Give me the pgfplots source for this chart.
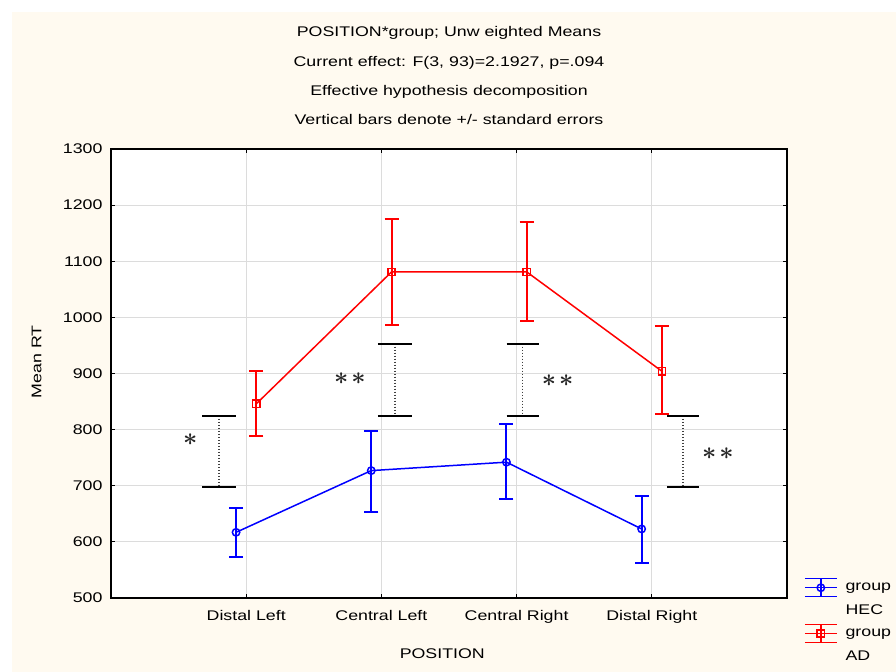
\documentclass[border=0pt]{standalone}
\usepackage{fontspec}
\setmainfont{Liberation Sans}[FakeStretch=1.27]
\usepackage{pgfplots}
\pgfplotsset{compat=1.18}
\definecolor{bgcream}{HTML}{FFFAF0}
\definecolor{gridgray}{HTML}{DCDCDC}
\definecolor{pblue}{RGB}{0,0,255}
\definecolor{pred}{RGB}{255,0,0}
\begin{document}
\begin{tikzpicture}[font=\fontsize{14bp}{17bp}\selectfont]
\fill[white] (0bp,0bp) rectangle (896bp,672bp);
\fill[bgcream] (12bp,0bp) rectangle (896bp,660bp);
\begin{axis}[
  at={(111bp,74bp)}, anchor=south west,
  width=676bp, height=449bp, scale only axis,
  clip=false,
  axis background/.style={fill=white},
  xmin=-1, xmax=4, ymin=500, ymax=1300,
  xtick={0,1,2,3},
  xticklabels={Distal Left, Central Left, Central Right, Distal Right},
  ytick={500,600,...,1300},
  /pgf/number format/assume math mode=true,
  /pgf/number format/1000 sep={},
  tick align=inside,
  major tick length=4bp,
  xmajorgrids, ymajorgrids,
  grid style={gridgray, line width=1.2bp},
  axis line style={black, line width=1.3bp},
  tick style={black, line width=1bp},
  xticklabel style={yshift=-9bp},
  yticklabel style={xshift=-5bp},
  xlabel={POSITION},
  xlabel style={at={(axis description cs:0.49,0)}, anchor=base, yshift=-60bp},
  ylabel={Mean RT},
  ylabel style={at={(axis description cs:-0.11,0.526)}, anchor=center},
  legend style={at={(axis description cs:1.025,0.045)}, anchor=north west,
    draw=none, fill=none, inner sep=0pt, row sep=5.5bp, column sep=6bp,
    nodes={inner sep=2bp, xshift=3bp}},
  legend cell align=left,
  legend image code/.code={
    \draw[#1,mark=none] (0bp,0bp) -- (32bp,0bp);
    \draw[#1,mark=none] (0bp,9bp) -- (32bp,9bp);
    \draw[#1,mark=none] (0bp,-9bp) -- (32bp,-9bp);
    \draw[#1,mark=none] (16bp,-9bp) -- (16bp,9bp);
    \draw[#1,only marks] plot coordinates {(16bp,0bp)};
  },
]
% HEC
\addplot[pblue, line width=1.5bp, mark=o, mark size=3.7bp,
  mark options={solid, fill=none, line width=1.5bp},
  error bars/.cd, y dir=both, y explicit,
  error bar style={line width=2bp},
  error mark options={rotate=90, mark size=7bp, line width=2bp}]
  coordinates {
  (-0.075,617) += (0,44) -= (0,44)
  (0.925,727) += (0,71) -= (0,73)
  (1.925,742) += (0,68) -= (0,65)
  (2.925,623) += (0,58) -= (0,61)
  };
\addlegendentry{group}
\addlegendimage{empty legend}
\addlegendentry{HEC}
% AD
\addplot[pred, line width=1.5bp, mark=square, mark size=3.6bp,
  mark options={solid, fill=none, line width=1.5bp},
  error bars/.cd, y dir=both, y explicit,
  error bar style={line width=2bp},
  error mark options={rotate=90, mark size=7bp, line width=2bp}]
  coordinates {
  (0.075,846) += (0,58) -= (0,57)
  (1.075,1081) += (0,94) -= (0,95)
  (2.075,1081) += (0,89) -= (0,87)
  (3.075,904) += (0,80) -= (0,77)
  };
\addlegendentry{group}
\addlegendimage{empty legend}
\addlegendentry{AD}
% significance brackets
\addplot[forget plot, black, line width=2bp] coordinates {(-0.325,824) (-0.074,824)};
\addplot[forget plot, black, line width=2bp] coordinates {(-0.325,697) (-0.074,697)};
\addplot[forget plot, black!75, line width=1.5bp, dash pattern=on 1.5bp off 1.5bp] coordinates {(-0.2,819) (-0.2,700)};
\addplot[forget plot, black, line width=2bp] coordinates {(0.974,953) (1.226,953)};
\addplot[forget plot, black, line width=2bp] coordinates {(0.974,824) (1.226,824)};
\addplot[forget plot, black!75, line width=1.5bp, dash pattern=on 1.5bp off 1.5bp] coordinates {(1.1,948) (1.1,827)};
\addplot[forget plot, black, line width=2bp] coordinates {(1.926,953) (2.163,953)};
\addplot[forget plot, black, line width=2bp] coordinates {(1.926,824) (2.163,824)};
\addplot[forget plot, black!75, line width=1.5bp, dash pattern=on 1.5bp off 1.5bp] coordinates {(2.044,948) (2.044,827)};
\addplot[forget plot, black, line width=2bp] coordinates {(3.111,824) (3.348,824)};
\addplot[forget plot, black, line width=2bp] coordinates {(3.111,697) (3.348,697)};
\addplot[forget plot, black!75, line width=1.5bp, dash pattern=on 1.5bp off 1.5bp] coordinates {(3.23,819) (3.23,700)};
% asterisks
\node[black!85, font=\fontsize{28bp}{28bp}\selectfont\boldmath] at (axis cs:-0.414,782) {$\ast$};
\node[black!85, font=\fontsize{28bp}{28bp}\selectfont\boldmath] at (axis cs:0.767,890) {$\ast$\hspace{3bp}$\ast$};
\node[black!85, font=\fontsize{28bp}{28bp}\selectfont\boldmath] at (axis cs:2.303,888) {$\ast$\hspace{3bp}$\ast$};
\node[black!85, font=\fontsize{28bp}{28bp}\selectfont\boldmath] at (axis cs:3.488,758) {$\ast$\hspace{3bp}$\ast$};
% title lines
\node[anchor=base] at (rel axis cs:0.5,1) [yshift=112bp] {POSITION*group; Unw eighted Means};
\node[anchor=base] at (rel axis cs:0.5,1) [yshift=82bp] {Current effect: F(3, 93)=2.1927, p=.094};
\node[anchor=base] at (rel axis cs:0.5,1) [yshift=53bp] {Effective hypothesis decomposition};
\node[anchor=base] at (rel axis cs:0.5,1) [yshift=24bp] {Vertical bars denote +/- standard errors};
\end{axis}
\end{tikzpicture}
\end{document}
